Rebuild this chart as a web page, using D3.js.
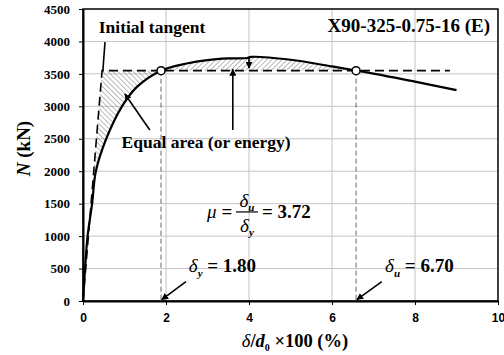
<!DOCTYPE html>
<html>
<head>
<style>
  body { margin: 0; background: #fff; }
  .serif { font-family: "Liberation Serif", "Times New Roman", serif; font-weight: bold; }
</style>
</head>
<body>
<svg id="chart" width="504" height="355"></svg>
<script src="https://d3js.org/d3.v7.min.js"></script>
<script>
  // load-deformation curve
  const curveX = [0, 0.05, 0.11, 0.22, 0.31, 0.56, 0.94, 1.3, 1.88, 2.5, 3.0, 3.5, 3.95, 4.05, 5.0, 6.0, 6.58, 7.0, 8.0, 9.0]
  const curveN = [0, 500, 1000, 1500, 2000, 2500, 3000, 3300, 3550, 3660, 3712, 3738, 3745, 3762, 3718, 3615, 3550, 3505, 3380, 3250]

  const yieldN = 3550
  const tangentX = [0, 0.46]
  const tangentN = [0, yieldN]
  const dashEndX = 8.84
  const deltaY = 1.88
  const deltaU = 6.58

  const xTicks = [0, 2, 4, 6, 8, 10]
  const yTicks = [0, 500, 1000, 1500, 2000, 2500, 3000, 3500, 4000, 4500]

  const margin = { top: 9, right: 6, bottom: 54, left: 83 }
  const W = 504, H = 355

  const svg = d3.select('#chart')
  const x = d3.scaleLinear().domain([0, 10]).range([margin.left, W - margin.right])
  const y = d3.scaleLinear().domain([0, 4500]).range([H - margin.bottom, margin.top])

  const pts = curveX.map((d, i) => [d, curveN[i]])
  const smooth = d3.curveCatmullRom.alpha(0.5)

  const defs = svg.append('defs')
  // hatch patterns
  function hatch(id, angle) {
    const p = defs.append('pattern')
      .attr('id', id).attr('width', 3.6).attr('height', 3.6)
      .attr('patternUnits', 'userSpaceOnUse')
      .attr('patternTransform', `rotate(${angle})`)
    p.append('line').attr('x1', 0).attr('y1', 0).attr('x2', 0).attr('y2', 3.6)
      .attr('stroke', '#8a8a8a').attr('stroke-width', 1.2)
  }
  hatch('hatchL', -45)
  hatch('hatchR', 45)

  defs.append('marker')
    .attr('id', 'arr').attr('viewBox', '0 0 10 10')
    .attr('refX', 9).attr('refY', 5)
    .attr('markerWidth', 7).attr('markerHeight', 7)
    .attr('markerUnits', 'userSpaceOnUse')
    .attr('orient', 'auto')
    .append('path').attr('d', 'M0,0 L10,5 L0,10 Z').attr('fill', '#000')

  // grid
  svg.append('g').selectAll('line').data(yTicks.slice(1, -1)).join('line')
    .attr('x1', x(0)).attr('x2', x(10))
    .attr('y1', d => y(d)).attr('y2', d => y(d))
    .attr('stroke', '#c4c4c4').attr('stroke-width', 1)
  svg.append('g').selectAll('line').data(xTicks.slice(1, -1)).join('line')
    .attr('y1', y(0)).attr('y2', y(4500))
    .attr('x1', d => x(d)).attr('x2', d => x(d))
    .attr('stroke', '#c4c4c4').attr('stroke-width', 1)

  const line = d3.line().x(d => x(d[0])).y(d => y(d[1])).curve(smooth)

  // clip: area above / below the curve
  defs.append('clipPath').attr('id', 'aboveCurve')
    .append('path')
    .attr('d', d3.area().x(d => x(d[0])).y0(y(4500)).y1(d => y(d[1])).curve(smooth)(pts))
  defs.append('clipPath').attr('id', 'belowCurve')
    .append('path')
    .attr('d', d3.area().x(d => x(d[0])).y0(y(0)).y1(d => y(d[1])).curve(smooth)(pts))

  // hatched area 1: between initial tangent and curve
  svg.append('path')
    .attr('clip-path', 'url(#aboveCurve)')
    .attr('d', d3.line()([
      [x(tangentX[0]), y(tangentN[0])], [x(tangentX[1]), y(tangentN[1])],
      [x(deltaY), y(yieldN)], [x(deltaY), y(0)]
    ]) + 'Z')
    .attr('fill', 'url(#hatchL)')

  // hatched area 2: curve above the yield plateau
  svg.append('path')
    .attr('clip-path', 'url(#belowCurve)')
    .attr('d', d3.line()([
      [x(deltaY), y(yieldN)], [x(deltaY), y(4500)], [x(deltaU), y(4500)], [x(deltaU), y(yieldN)]
    ]) + 'Z')
    .attr('fill', 'url(#hatchR)')

  // vertical dashed drops
  svg.append('g').selectAll('line').data([deltaY, deltaU]).join('line')
    .attr('x1', d => x(d)).attr('x2', d => x(d))
    .attr('y1', y(yieldN)).attr('y2', y(0))
    .attr('stroke', '#666').attr('stroke-width', 1).attr('stroke-dasharray', '5,3')

  // initial tangent and plateau
  svg.append('path')
    .attr('d', d3.line()([[x(tangentX[0]), y(tangentN[0])], [x(tangentX[1]), y(tangentN[1])], [x(dashEndX), y(yieldN)]]))
    .attr('fill', 'none').attr('stroke', '#000').attr('stroke-width', 1.6)
    .attr('stroke-dasharray', '9,5')

  // curve
  svg.append('path').attr('d', line(pts))
    .attr('fill', 'none').attr('stroke', '#000').attr('stroke-width', 2.2)

  // frame
  svg.append('rect')
    .attr('x', x(0)).attr('y', y(4500))
    .attr('width', x(10) - x(0)).attr('height', y(0) - y(4500))
    .attr('fill', 'none').attr('stroke', '#000').attr('stroke-width', 1.5)

  // axes
  const xAxis = svg.append('g').attr('transform', `translate(0,${y(0)})`)
    .call(d3.axisBottom(x).tickValues(xTicks).tickSize(4).tickPadding(8).tickSizeOuter(0))
  xAxis.select('.domain').attr('stroke-width', 2)
  xAxis.selectAll('text').attr('font-family', '"Liberation Sans", Arial, sans-serif')
    .attr('font-weight', 'bold').attr('font-size', 12).attr('fill', '#000')

  const yAxis = svg.append('g').attr('transform', `translate(${x(0)},0)`)
    .call(d3.axisLeft(y).tickValues(yTicks).tickFormat(d3.format('d')).tickSize(4).tickPadding(9).tickSizeOuter(0))
  yAxis.select('.domain').attr('stroke-width', 2)
  yAxis.selectAll('text').attr('class', 'serif').attr('font-size', 13).attr('fill', '#000')

  // points
  svg.append('g').selectAll('circle').data([deltaY, deltaU]).join('circle')
    .attr('cx', d => x(d)).attr('cy', y(yieldN)).attr('r', 4)
    .attr('fill', '#fff').attr('stroke', '#000').attr('stroke-width', 1.5)

  // arrows
  const arrows = [
    [1.61, 2635, 1.01, 3190],
    [3.61, 2635, 3.61, 3570],
    [4.0, 3765, 4.0, 3590],
    [2.48, 300, 1.90, 20],
    [7.2, 300, 6.6, 20]
  ]
  svg.append('g').selectAll('line').data(arrows).join('line')
    .attr('x1', d => x(d[0])).attr('y1', d => y(d[1]))
    .attr('x2', d => x(d[2])).attr('y2', d => y(d[3]))
    .attr('stroke', '#000').attr('stroke-width', 1.6)
    .attr('marker-end', 'url(#arr)')

  // leader from "Initial tangent"
  svg.append('line')
    .attr('x1', x(0.53)).attr('y1', y(3990)).attr('x2', x(0.48)).attr('y2', y(3560))
    .attr('stroke', '#000').attr('stroke-width', 1.6)

  // labels
  svg.append('text').attr('class', 'serif').attr('font-size', 17.5)
    .attr('x', x(0.38)).attr('y', y(4130)).text('Initial tangent')
  svg.append('text').attr('class', 'serif').attr('font-size', 19)
    .attr('x', x(9.81)).attr('y', y(4145)).attr('text-anchor', 'end').text('X90-325-0.75-16 (E)')
  svg.append('text').attr('class', 'serif').attr('font-size', 17.5)
    .attr('x', x(0.93)).attr('y', y(2358)).text('Equal area (or energy)')

  // mu formula
  const mu = svg.append('g').attr('class', 'serif').attr('font-size', 19)
  mu.append('text').attr('x', x(2.99)).attr('y', y(1280))
    .html('<tspan font-style="italic" font-weight="normal">μ</tspan> =')
  const fx = x(3.95)
  mu.append('line').attr('x1', fx - 11).attr('x2', fx + 11)
    .attr('y1', y(1280) - 6).attr('y2', y(1280) - 6).attr('stroke', '#000').attr('stroke-width', 1.2)
  mu.append('text').attr('x', fx).attr('y', y(1280) - 11).attr('text-anchor', 'middle')
    .html('<tspan font-style="italic" font-weight="normal">δ</tspan><tspan font-style="italic" font-size="11" dy="4">u</tspan>')
  mu.append('text').attr('x', fx).attr('y', y(1280) + 14).attr('text-anchor', 'middle')
    .html('<tspan font-style="italic" font-weight="normal">δ</tspan><tspan font-style="italic" font-size="11" dy="4">y</tspan>')
  mu.append('text').attr('x', fx + 15).attr('y', y(1280)).text('= 3.72')

  svg.append('text').attr('class', 'serif').attr('font-size', 19)
    .attr('x', x(2.55)).attr('y', y(447))
    .html('<tspan font-style="italic" font-weight="normal">δ</tspan><tspan font-style="italic" font-size="11" dy="5">y</tspan><tspan dy="-5"> = 1.80</tspan>')
  svg.append('text').attr('class', 'serif').attr('font-size', 19)
    .attr('x', x(7.28)).attr('y', y(447))
    .html('<tspan font-style="italic" font-weight="normal">δ</tspan><tspan font-style="italic" font-size="11" dy="5">u</tspan><tspan dy="-5"> = 6.70</tspan>')

  // axis titles
  svg.append('text').attr('class', 'serif').attr('font-size', 18.5)
    .attr('x', 295).attr('y', 347).attr('text-anchor', 'middle')
    .html('<tspan font-style="italic" font-weight="normal">δ</tspan>/<tspan font-style="italic">d</tspan><tspan font-size="10" dy="4">0</tspan><tspan dy="-4"> ×100 (%)</tspan>')
  svg.append('text').attr('class', 'serif').attr('font-size', 19)
    .attr('transform', `translate(30,${y(2350)}) rotate(-90)`).attr('text-anchor', 'middle')
    .html('<tspan font-style="italic">N</tspan> (kN)')
</script>
</body>
</html>
